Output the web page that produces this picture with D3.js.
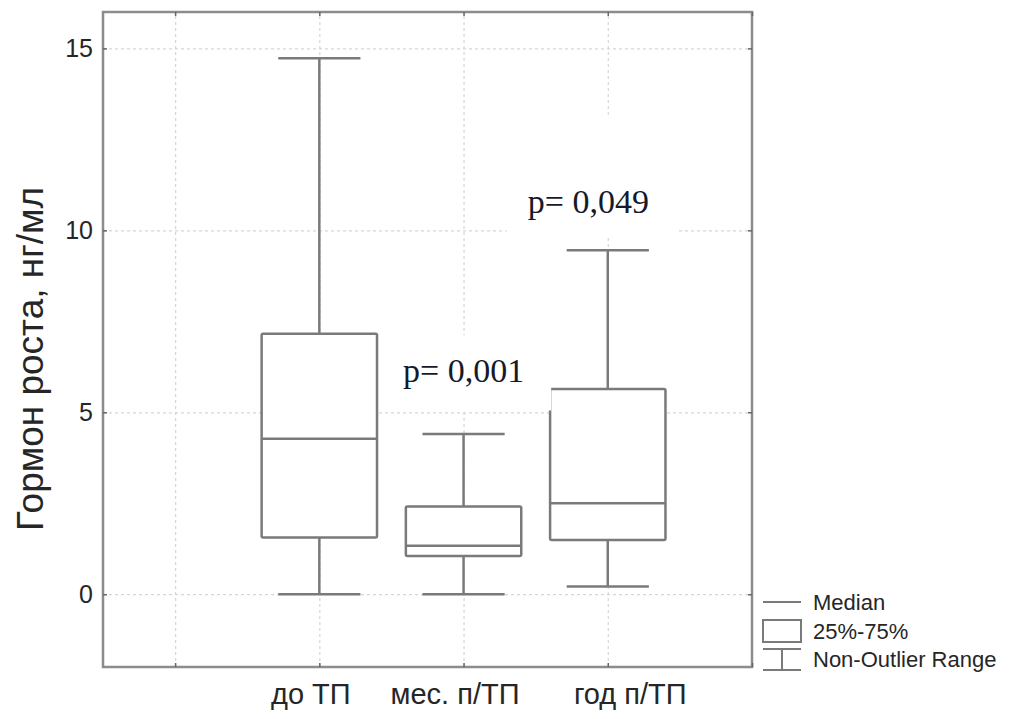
<!DOCTYPE html>
<html>
<head>
<meta charset="utf-8">
<script src="https://cdn.jsdelivr.net/npm/d3@7"></script>
<style>
  body { margin: 0; background: #fff; }
  svg { display: block; }
</style>
</head>
<body>
<svg id="chart" width="1013" height="719"></svg>
<script>
// Growth hormone levels by period: box = 25%-75%, line = median, whiskers = non-outlier range
const categories = ["до ТП", "мес. п/ТП", "год п/ТП"];
const whiskerLow = [0, 0, 0.21];
const q1 = [1.56, 1.05, 1.49];
const median = [4.27, 1.33, 2.50];
const q3 = [7.16, 2.41, 5.64];
const whiskerHigh = [14.73, 4.40, 9.45];
const yTicks = [0, 5, 10, 15];
const pValues = ["p= 0,001", "p= 0,049"];
const legendLabels = ["Median", "25%-75%", "Non-Outlier Range"];
const yTitle = "Гормон роста, нг/мл";

const svg = d3.select("#chart");
const plot = { left: 103, right: 752, top: 12, bottom: 667 };

// x slots: 0 is an empty slot, categories sit at 1..3, frame ends at 4
const x = d3.scaleLinear().domain([-0.5, 4]).range([plot.left, plot.right]);
const y = d3.scaleLinear().domain([-2, 16]).range([plot.bottom, plot.top]);
const slots = [0, 1, 2, 3, 4];
const catPos = categories.map((_, i) => i + 1);

const lineCol = "#7a7a7a";
const frameCol = "#8c8c8c";
const gridCol = "#d6d6d6";
const textCol = "#262626";
const sansFont = "'Liberation Sans', Arial, sans-serif";
const serifFont = "'Liberation Serif', 'Times New Roman', serif";

// dotted grid
const grid = svg.append("g");
grid.append("g")
  .attr("transform", `translate(0,${plot.bottom})`)
  .call(d3.axisBottom(x).tickValues(slots.slice(0, 4)).tickSize(-(plot.bottom - plot.top)).tickFormat(""))
  .call(g => g.select(".domain").remove());
grid.append("g")
  .attr("transform", `translate(${plot.left},0)`)
  .call(d3.axisLeft(y).tickValues(yTicks).tickSize(-(plot.right - plot.left)).tickFormat(""))
  .call(g => g.select(".domain").remove());
grid.selectAll("line")
  .attr("stroke", gridCol)
  .attr("stroke-width", 1.2)
  .attr("stroke-dasharray", "3,3");

// boxes and whiskers
const boxW = (x(1) - x(0)) * 0.8;
const capW = (x(1) - x(0)) * 0.57;
const boxes = svg.append("g")
  .attr("stroke", lineCol)
  .attr("stroke-width", 2.5)
  .attr("fill", "#fff");

categories.forEach((c, i) => {
  const cx = x(catPos[i]);
  const g = boxes.append("g");
  g.append("line").attr("x1", cx).attr("x2", cx).attr("y1", y(q3[i])).attr("y2", y(whiskerHigh[i]));
  g.append("line").attr("x1", cx).attr("x2", cx).attr("y1", y(q1[i])).attr("y2", y(whiskerLow[i]));
  g.append("line").attr("x1", cx - capW / 2).attr("x2", cx + capW / 2).attr("y1", y(whiskerHigh[i])).attr("y2", y(whiskerHigh[i]));
  g.append("line").attr("x1", cx - capW / 2).attr("x2", cx + capW / 2).attr("y1", y(whiskerLow[i])).attr("y2", y(whiskerLow[i]));
  g.append("rect")
    .attr("x", cx - boxW / 2).attr("width", boxW)
    .attr("y", y(q3[i])).attr("height", y(q1[i]) - y(q3[i]))
    .attr("rx", 1.5);
  g.append("line").attr("x1", cx - boxW / 2).attr("x2", cx + boxW / 2).attr("y1", y(median[i])).attr("y2", y(median[i]));
});

// p-value annotations on white patches
const pLayout = [
  { cx: 2.0, base: 5.82, pad: [23, 27, 25, 21] },
  { cx: 2.865, base: 10.47, pad: [21, 28, 73, 16] }
];
pValues.forEach((t, i) => {
  const L = pLayout[i];
  const g = svg.append("g");
  const txt = g.append("text")
    .attr("x", x(L.cx)).attr("y", y(L.base))
    .attr("text-anchor", "middle")
    .attr("font-family", serifFont)
    .attr("font-size", 34)
    .attr("fill", "#151a2a")
    .text(t);
  const bb = txt.node().getBBox();
  g.insert("rect", "text")
    .attr("x", bb.x - L.pad[0]).attr("width", bb.width + L.pad[0] + L.pad[1])
    .attr("y", bb.y - L.pad[2] + 8).attr("height", bb.height + L.pad[2] + L.pad[3] - 8)
    .attr("fill", "#fff");
});

// frame with inward ticks
const frame = svg.append("g");
frame.append("rect")
  .attr("x", plot.left).attr("y", plot.top)
  .attr("width", plot.right - plot.left).attr("height", plot.bottom - plot.top)
  .attr("fill", "none").attr("stroke", frameCol).attr("stroke-width", 2.5);
const tickLen = 4;
[
  [d3.axisBottom(x).tickValues(slots), `translate(0,${plot.bottom})`, -tickLen],
  [d3.axisTop(x).tickValues(slots), `translate(0,${plot.top})`, -tickLen],
  [d3.axisLeft(y).tickValues(yTicks), `translate(${plot.left},0)`, -tickLen],
  [d3.axisRight(y).tickValues(yTicks), `translate(${plot.right},0)`, -tickLen]
].forEach(([ax, tr, len]) => {
  frame.append("g").attr("transform", tr)
    .call(ax.tickSize(len).tickFormat(""))
    .call(g => g.select(".domain").remove())
    .selectAll("line").attr("stroke", "#666").attr("stroke-width", 1.5);
});

// y tick labels
svg.append("g")
  .attr("transform", `translate(${plot.left},0)`)
  .call(d3.axisLeft(y).tickValues(yTicks).tickSize(0).tickPadding(10).tickFormat(d3.format("d")))
  .call(g => g.select(".domain").remove())
  .selectAll("text")
  .attr("font-family", sansFont)
  .attr("font-size", 25)
  .attr("fill", textCol);

// category labels
const labelNudge = [-9, -9, 22];
svg.append("g")
  .attr("transform", `translate(0,${plot.bottom})`)
  .call(d3.axisBottom(x).tickValues(catPos).tickSize(0).tickPadding(16)
    .tickFormat(d => categories[d - 1]))
  .call(g => g.select(".domain").remove())
  .selectAll("text")
  .attr("dx", (d, i) => labelNudge[i])
  .attr("font-family", sansFont)
  .attr("font-size", 29)
  .attr("fill", textCol);

// y axis title
svg.append("text")
  .attr("transform", `translate(43,${(188 + 530) / 2}) rotate(-90)`)
  .attr("text-anchor", "middle")
  .attr("font-family", sansFont)
  .attr("font-size", 37)
  .attr("fill", textCol)
  .text(yTitle);

// legend
const lg = svg.append("g").attr("transform", "translate(763,0)");
const lgStroke = { stroke: lineCol, "stroke-width": 2, fill: "none" };
const applyStroke = sel => Object.entries(lgStroke).forEach(([k, v]) => sel.attr(k, v));
lg.append("line").attr("x1", 0).attr("x2", 38).attr("y1", 602).attr("y2", 602).call(applyStroke);
lg.append("rect").attr("x", 0).attr("y", 620).attr("width", 38).attr("height", 22).call(applyStroke);
lg.append("line").attr("x1", 0).attr("x2", 38).attr("y1", 649).attr("y2", 649).call(applyStroke);
lg.append("line").attr("x1", 0).attr("x2", 38).attr("y1", 670).attr("y2", 670).call(applyStroke);
lg.append("line").attr("x1", 19).attr("x2", 19).attr("y1", 649).attr("y2", 670).call(applyStroke);
lg.selectAll("text.leg")
  .data(legendLabels)
  .join("text")
  .attr("class", "leg")
  .attr("x", 50)
  .attr("y", (d, i) => 610 + i * 28.5)
  .attr("font-family", sansFont)
  .attr("font-size", 22)
  .attr("fill", textCol)
  .text(d => d);
</script>
</body>
</html>
